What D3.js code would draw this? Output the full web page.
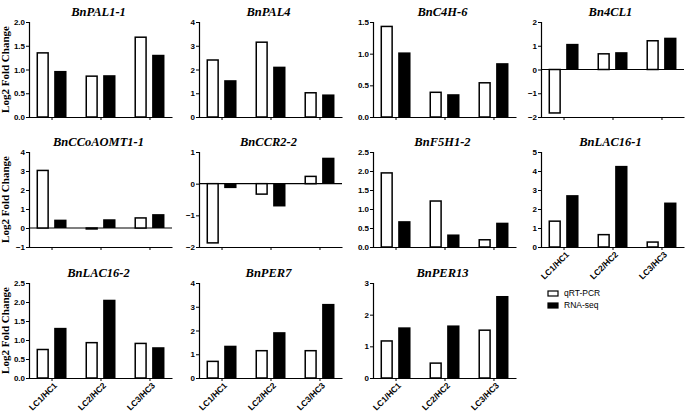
<!DOCTYPE html>
<html>
<head>
<meta charset="utf-8">
<script src="https://cdnjs.cloudflare.com/ajax/libs/d3/7.8.5/d3.min.js"></script>
<style>
    body { margin: 0; background: #fff; }
</style>
</head>
<body>
<div id="chart"></div>
<script>
var groups = ["LC1/HC1", "LC2/HC2", "LC3/HC3"];
var series = ["qRT-PCR", "RNA-seq"];
var genes = ["BnPAL1-1", "BnPAL4", "BnC4H-6", "Bn4CL1",
             "BnCCoAOMT1-1", "BnCCR2-2", "BnF5H1-2", "BnLAC16-1",
             "BnLAC16-2", "BnPER7", "BnPER13"];
var qrtPcr = [
    [1.35, 0.86, 1.68],
    [2.40, 3.15, 1.02],
    [1.43, 0.39, 0.54],
    [-1.83, 0.66, 1.21],
    [3.03, -0.05, 0.53],
    [-1.87, -0.33, 0.23],
    [1.95, 1.21, 0.19],
    [1.36, 0.65, 0.26],
    [0.75, 0.93, 0.91],
    [0.70, 1.15, 1.15],
    [1.17, 0.47, 1.51]
];
var rnaSeq = [
    [0.97, 0.88, 1.31],
    [1.55, 2.12, 0.95],
    [1.02, 0.36, 0.85],
    [1.08, 0.73, 1.34],
    [0.44, 0.46, 0.73],
    [-0.14, -0.72, 0.82],
    [0.68, 0.33, 0.64],
    [2.73, 4.27, 2.34],
    [1.32, 2.06, 0.81],
    [1.36, 1.93, 3.12],
    [1.60, 1.66, 2.59]
];
var yDomains = [[0, 2], [0, 4], [0, 1.5], [-2, 2],
                [-1, 4], [-2, 1], [0, 2.5], [0, 5],
                [0, 2.5], [0, 4], [0, 3]];
var yTickSteps = [0.5, 1, 0.5, 1, 1, 1, 0.5, 1, 0.5, 1, 1];
var yTitle = "Log2 Fold Change";

function init() {
    var colX = [29, 199, 373, 541],
        rowY = [22, 152, 283],
        width = 143,
        height = 95;

    var svg = d3.select("#chart")
        .append("svg")
        .attr("width", 685)
        .attr("height", 413);

    var x = d3.scalePoint()
        .domain(groups)
        .range([0, width])
        .padding(0.46);

    var xi = d3.scaleBand()
        .domain(series)
        .range([-15, 15])
        .paddingInner(0.3);

    genes.forEach(function (gene, i) {
        var col = i % 4, row = Math.floor(i / 4);
        var g = svg.append("g")
            .attr("transform", "translate(" + colX[col] + "," + rowY[row] + ")");

        var dom = yDomains[i], step = yTickSteps[i];
        var y = d3.scaleLinear().domain(dom).range([height, 0]);
        var ticks = d3.range(dom[0], dom[1] + step / 2, step);
        var fmt = step < 1 ? d3.format(".1f") : d3.format("d");

        // y axis
        var yAxis = g.append("g")
            .call(d3.axisLeft(y).tickValues(ticks).tickFormat(fmt).tickSize(3).tickPadding(1));
        yAxis.select(".domain").attr("stroke-width", 1.2);
        yAxis.selectAll("text")
            .style("font-family", "Liberation Sans, Arial, sans-serif")
            .style("font-size", "8px")
            .style("font-weight", "bold");

        // x axis at the bottom
        var showLabels = row == 2 || i == 7;
        var xAxis = g.append("g")
            .attr("transform", "translate(0," + height + ")")
            .call(d3.axisBottom(x).tickSize(3).tickSizeOuter(0).tickPadding(2));
        xAxis.select(".domain").attr("stroke-width", 1.2);
        if (showLabels) {
            xAxis.selectAll("text")
                .attr("transform", "rotate(-45)")
                .attr("dx", "-0.2em")
                .attr("dy", "0.55em")
                .style("text-anchor", "end")
                .style("font-family", "Liberation Sans, Arial, sans-serif")
                .style("font-size", "8.5px")
                .style("font-weight", "bold");
        } else {
            xAxis.selectAll("text").remove();
        }

        // zero line when the axis goes negative
        if (dom[0] < 0) {
            g.append("line")
                .attr("x1", 0)
                .attr("x2", width)
                .attr("y1", y(0))
                .attr("y2", y(0))
                .attr("stroke", "#000")
                .attr("stroke-width", 1.2);
        }

        var rows = groups.map(function (grp, j) {
            return [
                { group: grp, s: series[0], v: qrtPcr[i][j] },
                { group: grp, s: series[1], v: rnaSeq[i][j] }
            ];
        });
        var bars = d3.merge(rows);

        g.selectAll("rect.bar")
            .data(bars)
            .enter()
            .append("rect")
            .attr("class", "bar")
            .attr("x", function (d) { return x(d.group) + xi(d.s) + (d.s == series[0] ? 0.75 : 0); })
            .attr("width", function (d) { return xi.bandwidth() - (d.s == series[0] ? 1.5 : 0); })
            .attr("y", function (d) { return Math.min(y(0), y(d.v)); })
            .attr("height", function (d) { return Math.abs(y(d.v) - y(0)); })
            .attr("fill", function (d) { return d.s == series[0] ? "#fff" : "#000"; })
            .attr("stroke", "#000")
            .attr("stroke-width", function (d) { return d.s == series[0] ? 1.5 : 0; });

        // title
        g.append("text")
            .attr("x", width / 2 - 2)
            .attr("y", -6)
            .attr("text-anchor", "middle")
            .style("font-family", "Liberation Serif, Times New Roman, serif")
            .style("font-size", "12.5px")
            .style("font-weight", "bold")
            .style("font-style", "italic")
            .text(gene);

        if (col == 0) {
            g.append("text")
                .attr("transform", "translate(-20," + (height / 2) + ") rotate(-90)")
                .attr("text-anchor", "middle")
                .style("font-family", "Liberation Serif, Times New Roman, serif")
                .style("font-size", "11px")
                .style("font-weight", "bold")
                .text(yTitle);
        }
    });

    // legend
    var legend = svg.append("g")
        .attr("transform", "translate(548,291)");
    series.forEach(function (s, k) {
        legend.append("rect")
            .attr("x", 0)
            .attr("y", k * 12)
            .attr("width", 10)
            .attr("height", 5)
            .attr("fill", k == 0 ? "#fff" : "#000")
            .attr("stroke", "#000")
            .attr("stroke-width", 1.2);
        legend.append("text")
            .attr("x", 16)
            .attr("y", k * 12 + 5)
            .style("font-family", "Liberation Sans, Arial, sans-serif")
            .style("font-size", "8.5px")
            .text(s);
    });
}

window.onload = init;
</script>
</body>
</html>
